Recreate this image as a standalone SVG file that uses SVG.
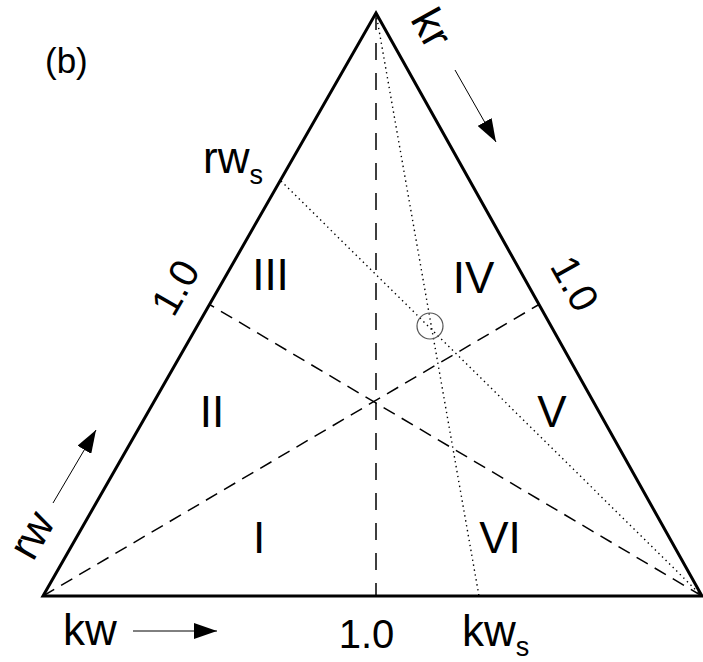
<svg xmlns="http://www.w3.org/2000/svg" width="703" height="662" viewBox="0 0 703 662">
<style>
text{font-family:"Liberation Sans",Arial,sans-serif;fill:#000}
.big{font-size:44px}
.num{font-size:40px}
.lbl{font-size:35px}
.sub{font-size:27px}
.edge{fill:none;stroke:#000;stroke-width:3;stroke-linejoin:miter}
.dash{fill:none;stroke:#000;stroke-width:1.5;stroke-dasharray:13 8}
.vdash{fill:none;stroke:#000;stroke-width:1.5;stroke-dasharray:17 13}
.dot{fill:none;stroke:#000;stroke-width:1.4;stroke-dasharray:1.4 3.6}
.arr{fill:none;stroke:#000;stroke-width:1;marker-end:url(#ah)}
</style>
<defs>
<marker id="ah" markerUnits="userSpaceOnUse" markerWidth="23" markerHeight="16" refX="23" refY="8" orient="auto">
<path d="M0,0 L23,8 L0,16 z" fill="#000"/>
</marker>
</defs>
<rect width="703" height="662" fill="#fff"/>
<g id="connectors">
<line class="dash" x1="702" y1="596" x2="209.5" y2="304.5"/>
<line class="dash" x1="43" y1="596" x2="539" y2="304.5"/>
<line class="vdash" x1="376" y1="13" x2="376" y2="596"/>
<line class="dot" x1="281" y1="181" x2="702" y2="596"/>
<line class="dot" x1="376" y1="13" x2="479" y2="596"/>
<line class="arr" x1="455" y1="70" x2="496" y2="142"/>
<line class="arr" x1="53" y1="503" x2="96" y2="430"/>
<line class="arr" x1="133" y1="631" x2="217" y2="631"/>
</g>
<g id="triangle">
<polygon class="edge" points="376,13 702,596 43,596"/>
</g>
<g id="marker-circle">
<circle cx="430" cy="326" r="13" fill="none" stroke="#555" stroke-width="1.2"/>
</g>
<g id="region-I"><text class="big" x="259" y="553" text-anchor="middle">I</text></g>
<g id="region-II"><text class="big" x="212" y="427" text-anchor="middle">II</text></g>
<g id="region-III"><text class="big" x="270.5" y="290" text-anchor="middle">III</text></g>
<g id="region-IV"><text class="big" x="473.5" y="293" text-anchor="middle">IV</text></g>
<g id="region-V"><text class="big" x="552" y="427" text-anchor="middle">V</text></g>
<g id="region-VI"><text class="big" x="500" y="553" text-anchor="middle">VI</text></g>
<g id="labels">
<text class="lbl" x="45" y="73">(b)</text>
<text class="big" x="203" y="173">rw<tspan class="sub" dy="11">s</tspan></text>
<text class="big" x="462" y="646">kw<tspan class="sub" dy="10">s</tspan></text>
<text class="big" x="63" y="645">kw</text>
<text class="num" x="366.5" y="648" text-anchor="middle">1.0</text>
<text class="num" text-anchor="middle" transform="translate(175,287.5) rotate(-60.3)" y="14">1.0</text>
<text class="num" text-anchor="middle" transform="translate(575,283.5) rotate(60.8)" y="14">1.0</text>
<text class="big" text-anchor="middle" transform="translate(35,537) rotate(-60.3)" y="11">rw</text>
<text class="big" text-anchor="middle" transform="translate(431,28.5) rotate(60.8)" y="14">kr</text>
</g>
</svg>
